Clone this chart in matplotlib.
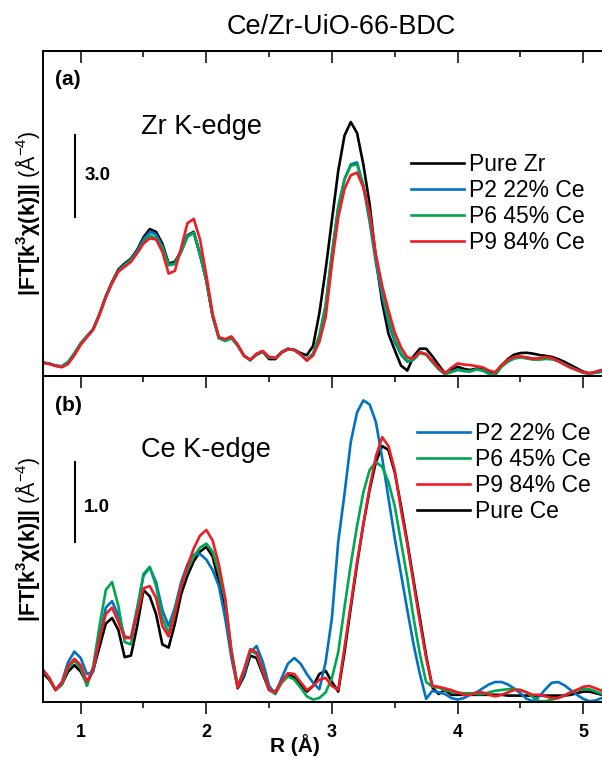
import numpy as np
import matplotlib
matplotlib.use("Agg")
import matplotlib.pyplot as plt
from matplotlib.ticker import FixedLocator


plt.rcParams["font.family"] = "Liberation Sans"
plt.rcParams["mathtext.fontset"] = "custom"
plt.rcParams["mathtext.rm"] = "Liberation Sans"
plt.rcParams["mathtext.it"] = "Liberation Sans:italic"
plt.rcParams["mathtext.bf"] = "Liberation Sans:bold"

# R grid (A), 0.70 ... 5.15 in steps of 0.05
r_grid = np.round(np.arange(0.70, 5.151, 0.05), 2)

# Zr K-edge |FT|
zr_pure = [
    0.49, 0.45, 0.38, 0.34, 0.48, 0.80, 1.18, 1.45, 1.72, 2.28,
    2.92, 3.45, 3.90, 4.12, 4.30, 4.62, 5.08, 5.38, 5.28, 4.85,
    4.12, 4.18, 4.58, 5.15, 5.28, 4.45, 3.50, 2.20, 1.40, 1.32,
    1.42, 1.12, 0.75, 0.58, 0.78, 0.89, 0.62, 0.62, 0.88, 1.00,
    0.96, 0.84, 0.76, 1.10, 2.30, 3.90, 5.71, 7.50, 8.80, 9.30,
    8.90, 7.75, 6.30, 4.30, 2.70, 1.55, 0.95, 0.38, 0.20, 0.72,
    1.00, 1.00, 0.72, 0.40, 0.10, 0.22, 0.34, 0.26, 0.22, 0.27,
    0.24, 0.15, 0.12, 0.38, 0.62, 0.78, 0.84, 0.85, 0.82, 0.77,
    0.74, 0.70, 0.62, 0.52, 0.40, 0.28, 0.16, 0.10, 0.15, 0.22,
]
zr_p2 = [
    0.49, 0.45, 0.38, 0.36, 0.52, 0.84, 1.20, 1.46, 1.72, 2.26,
    2.90, 3.42, 3.85, 4.08, 4.27, 4.58, 5.00, 5.28, 5.18, 4.75,
    4.08, 4.12, 4.55, 5.10, 5.25, 4.45, 3.50, 2.20, 1.40, 1.32,
    1.42, 1.12, 0.75, 0.58, 0.80, 0.90, 0.68, 0.66, 0.86, 0.98,
    0.95, 0.78, 0.58, 0.80, 1.45, 2.55, 4.45, 6.15, 7.20, 7.75,
    7.82, 6.95, 5.65, 4.15, 2.95, 1.95, 1.25, 0.78, 0.52, 0.60,
    0.86, 0.80, 0.52, 0.26, 0.08, 0.16, 0.24, 0.19, 0.17, 0.24,
    0.21, 0.09, 0.04, 0.35, 0.53, 0.65, 0.70, 0.68, 0.64, 0.62,
    0.63, 0.62, 0.55, 0.44, 0.32, 0.22, 0.12, 0.09, 0.12, 0.16,
]
zr_p6 = [
    0.49, 0.45, 0.38, 0.34, 0.50, 0.82, 1.20, 1.46, 1.72, 2.26,
    2.90, 3.42, 3.85, 4.05, 4.25, 4.52, 4.90, 5.15, 5.05, 4.70,
    4.05, 4.10, 4.55, 5.12, 5.25, 4.45, 3.50, 2.20, 1.38, 1.28,
    1.38, 1.10, 0.75, 0.58, 0.80, 0.90, 0.68, 0.66, 0.86, 0.98,
    0.95, 0.78, 0.60, 0.82, 1.50, 2.60, 4.50, 6.20, 7.20, 7.70,
    7.75, 7.00, 5.80, 4.30, 3.10, 2.10, 1.35, 0.85, 0.55, 0.60,
    0.84, 0.78, 0.50, 0.25, 0.06, 0.14, 0.22, 0.18, 0.17, 0.24,
    0.20, 0.08, 0.03, 0.35, 0.52, 0.64, 0.68, 0.64, 0.60, 0.60,
    0.63, 0.62, 0.55, 0.43, 0.32, 0.22, 0.12, 0.09, 0.12, 0.16,
]
zr_p9 = [
    0.49, 0.44, 0.37, 0.32, 0.44, 0.76, 1.14, 1.42, 1.70, 2.24,
    2.88, 3.40, 3.82, 4.00, 4.18, 4.50, 4.85, 5.04, 5.00, 4.55,
    3.75, 3.85, 4.70, 5.60, 5.75, 5.00, 3.70, 2.28, 1.42, 1.35,
    1.45, 1.15, 0.72, 0.60, 0.82, 0.92, 0.70, 0.66, 0.86, 0.98,
    0.96, 0.80, 0.56, 0.75, 1.25, 2.15, 4.10, 5.80, 6.85, 7.35,
    7.45, 6.90, 6.00, 4.45, 3.30, 2.40, 1.60, 1.05, 0.68, 0.65,
    0.88, 0.80, 0.55, 0.30, 0.10, 0.30, 0.46, 0.42, 0.40, 0.36,
    0.32, 0.20, 0.14, 0.40, 0.59, 0.70, 0.72, 0.68, 0.63, 0.65,
    0.70, 0.66, 0.55, 0.42, 0.30, 0.22, 0.14, 0.10, 0.15, 0.22,
]

# Ce K-edge |FT|
ce_p2 = [
    0.40, 0.30, 0.15, 0.25, 0.50, 0.63, 0.55, 0.35, 0.38, 0.80,
    1.18, 1.26, 1.08, 0.82, 0.80, 1.18, 1.58, 1.68, 1.50, 1.15,
    0.95, 1.18, 1.50, 1.72, 1.84, 1.85, 1.78, 1.65, 1.45, 1.05,
    0.55, 0.18, 0.35, 0.62, 0.70, 0.50, 0.20, 0.10, 0.30, 0.48,
    0.55, 0.48, 0.35, 0.24, 0.16, 0.50, 1.05, 2.00, 2.60, 3.25,
    3.62, 3.77, 3.72, 3.50, 3.05, 2.55, 2.05, 1.60, 1.15, 0.72,
    0.35, 0.04, 0.14, 0.12, 0.10, 0.05, 0.03, 0.05, 0.09, 0.12,
    0.17, 0.22, 0.25, 0.25, 0.22, 0.17, 0.11, 0.04, 0.01, 0.07,
    0.16, 0.24, 0.25, 0.21, 0.15, 0.09, 0.04, 0.01, 0.02, 0.05,
]
ce_p6 = [
    0.40, 0.30, 0.15, 0.22, 0.42, 0.52, 0.42, 0.20, 0.45, 0.95,
    1.40, 1.50, 1.20, 0.75, 0.72, 1.15, 1.60, 1.69, 1.45, 1.05,
    0.86, 1.15, 1.45, 1.65, 1.82, 1.93, 1.98, 1.88, 1.62, 1.28,
    0.65, 0.20, 0.40, 0.64, 0.60, 0.38, 0.15, 0.10, 0.24, 0.32,
    0.28, 0.18, 0.07, 0.03, 0.05, 0.12, 0.30, 0.62, 1.18, 1.72,
    2.20, 2.62, 2.90, 3.00, 2.94, 2.75, 2.45, 2.00, 1.55, 1.05,
    0.60, 0.25, 0.19, 0.18, 0.15, 0.13, 0.12, 0.11, 0.11, 0.10,
    0.10, 0.12, 0.14, 0.15, 0.16, 0.16, 0.15, 0.12, 0.06, 0.01,
    0.01, 0.03, 0.05, 0.08, 0.12, 0.15, 0.16, 0.16, 0.13, 0.10,
]
ce_p9 = [
    0.40, 0.30, 0.15, 0.24, 0.45, 0.54, 0.46, 0.25, 0.42, 0.80,
    1.10, 1.18, 1.00, 0.80, 0.80, 1.10, 1.42, 1.45, 1.30, 0.95,
    0.82, 1.10, 1.45, 1.70, 1.92, 2.08, 2.15, 2.02, 1.72, 1.30,
    0.62, 0.18, 0.40, 0.66, 0.62, 0.40, 0.15, 0.12, 0.26, 0.36,
    0.35, 0.25, 0.15, 0.20, 0.28, 0.30, 0.20, 0.15, 0.68, 1.22,
    1.75, 2.22, 2.68, 3.07, 3.31, 3.20, 2.90, 2.40, 1.97, 1.48,
    1.00, 0.55, 0.20, 0.19, 0.17, 0.15, 0.12, 0.09, 0.09, 0.12,
    0.12, 0.09, 0.07, 0.09, 0.12, 0.15, 0.15, 0.12, 0.09, 0.09,
    0.07, 0.05, 0.05, 0.08, 0.12, 0.15, 0.19, 0.20, 0.17, 0.14,
]
ce_pure = [
    0.36, 0.28, 0.15, 0.22, 0.38, 0.46, 0.38, 0.23, 0.40, 0.69,
    0.98, 1.05, 0.90, 0.56, 0.58, 0.95, 1.40, 1.32, 1.10, 0.72,
    0.68, 0.98, 1.35, 1.58, 1.76, 1.88, 1.94, 1.82, 1.50, 1.15,
    0.62, 0.17, 0.32, 0.58, 0.55, 0.35, 0.15, 0.13, 0.26, 0.34,
    0.31, 0.22, 0.13, 0.20, 0.35, 0.39, 0.25, 0.13, 0.62, 1.18,
    1.72, 2.22, 2.65, 3.00, 3.20, 3.15, 2.87, 2.45, 2.00, 1.52,
    1.05, 0.58, 0.18, 0.10, 0.15, 0.09, 0.09, 0.09, 0.09, 0.09,
    0.09, 0.09, 0.09, 0.09, 0.08, 0.08, 0.08, 0.08, 0.08, 0.08,
    0.08, 0.08, 0.08, 0.08, 0.09, 0.11, 0.13, 0.13, 0.11, 0.09,
]

zr_series = [
    ("Pure Zr", zr_pure, "black"),
    ("P2 22% Ce", zr_p2, "#0072C0"),
    ("P6 45% Ce", zr_p6, "#00A651"),
    ("P9 84% Ce", zr_p9, "#EE1C25"),
]
ce_series = [
    ("Pure Ce", ce_pure, "black"),
    ("P2 22% Ce", ce_p2, "#0072C0"),
    ("P6 45% Ce", ce_p6, "#00A651"),
    ("P9 84% Ce", ce_p9, "#EE1C25"),
]
ce_legend_order = ["P2 22% Ce", "P6 45% Ce", "P9 84% Ce", "Pure Ce"]

ylabel = r"$\mathbf{|FT[k^{3}\chi(k)]|}$ (Å$^{-4}$)"

W, H = 602, 758
fig = plt.figure(figsize=(W / 100, H / 100), dpi=100)

ax_a = fig.add_axes([43 / W, 1 - 376 / H, 559 / W, 325 / H])
ax_b = fig.add_axes([43 / W, 1 - 702 / H, 559 / W, 326 / H])

major = [1, 2, 3, 4, 5]
minor = [1.5, 2.5, 3.5, 4.5]


def style_axes(ax):
    ax.set_facecolor("none")
    ax.set_xlim(0.70, 5.15)
    ax.set_yticks([])
    ax.spines["right"].set_visible(False)
    for s in ["left", "top", "bottom"]:
        ax.spines[s].set_linewidth(1.4)
    ax.xaxis.set_major_locator(FixedLocator(major))
    ax.xaxis.set_minor_locator(FixedLocator(minor))
    ax.tick_params(axis="x", which="both", direction="out", top=False,
                   bottom=True, width=1.1, labelbottom=False)
    ax.tick_params(axis="x", which="major", length=8.5)
    ax.tick_params(axis="x", which="minor", length=4.3)


style_axes(ax_a)
style_axes(ax_b)

# top ticks of panel (a) point inwards
sec = ax_a.secondary_xaxis("top")
sec.xaxis.set_major_locator(FixedLocator(major))
sec.xaxis.set_minor_locator(FixedLocator(minor))
sec.tick_params(axis="x", which="both", direction="in", width=1.1,
                labeltop=False)
sec.tick_params(axis="x", which="major", length=8.5)
sec.tick_params(axis="x", which="minor", length=4.3)
sec.spines["top"].set_linewidth(1.4)

ax_a.set_ylim(0, 11.9)
ax_b.set_ylim(0, 4.075)

lines_a = {}
for name, vals, col in zr_series:
    lines_a[name], = ax_a.plot(r_grid, vals, color=col, lw=1.9, label=name)

lines_b = {}
for name, vals, col in ce_series:
    lines_b[name], = ax_b.plot(r_grid, vals, color=col, lw=1.9, label=name)

leg_kw = dict(frameon=False, fontsize=16.5, handlelength=2.3,
              handletextpad=0.25, labelspacing=0.12, borderpad=0,
              borderaxespad=0, loc="upper left")
ax_a.legend(**leg_kw, bbox_to_anchor=(0.658, 0.685))
ax_b.legend([lines_b[n] for n in ce_legend_order], ce_legend_order,
            **leg_kw, bbox_to_anchor=(0.669, 0.858))

# scale bars
ax_a.plot([0.955, 0.955], [5.82, 8.82], color="black", lw=1.5)
ax_a.text(0.075, 0.618, "3.0", transform=ax_a.transAxes, fontsize=13.5,
          fontweight="bold", va="center", ha="left")
ax_b.plot([0.955, 0.955], [2.0, 3.0], color="black", lw=1.5)
ax_b.text(0.073, 0.598, "1.0", transform=ax_b.transAxes, fontsize=13.5,
          fontweight="bold", va="center", ha="left")

ax_a.text(0.045, 0.911, "(a)", transform=ax_a.transAxes, fontsize=15,
          fontweight="bold", va="center", ha="center")
ax_b.text(0.045, 0.911, "(b)", transform=ax_b.transAxes, fontsize=15,
          fontweight="bold", va="center", ha="center")

ax_a.text(0.175, 0.766, "Zr K-edge", transform=ax_a.transAxes,
          fontsize=19.5, va="center", ha="left")
ax_b.text(0.175, 0.773, "Ce K-edge", transform=ax_b.transAxes,
          fontsize=19.5, va="center", ha="left")

for ax in (ax_a, ax_b):
    ax.text(-0.027, 0.5, ylabel, transform=ax.transAxes, rotation=90,
            fontsize=15.5, va="center", ha="center")

ax_b.tick_params(axis="x", labelbottom=True, labelsize=13, pad=7)
for lbl in ax_b.get_xticklabels():
    lbl.set_fontweight("bold")

fig.text(295 / W, 1 - 752 / H, "R (Å)", fontsize=15, fontweight="bold",
         ha="center", va="baseline")
fig.text(341 / W, 1 - 27 / H, "Ce/Zr-UiO-66-BDC", fontsize=19.5,
         ha="center", va="center")

fig.savefig("out.png", dpi=100)
